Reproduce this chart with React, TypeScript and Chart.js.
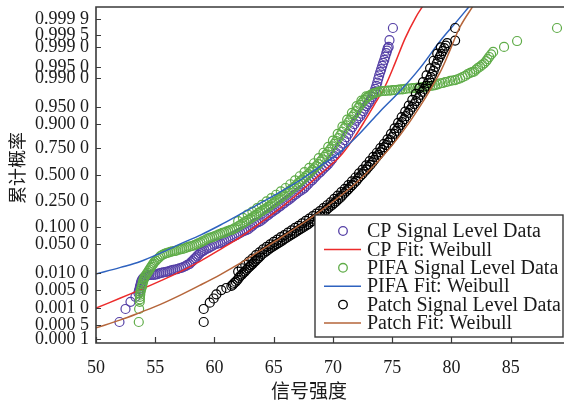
import React, { useEffect, useRef } from 'react';
import { Chart, registerables } from 'chart.js';
Chart.register(...registerables);

// ---- axes ----
const X_MIN = 50;
const X_MAX = 89.5;
const X_TICKS = [50, 55, 60, 65, 70, 75, 80, 85];
const Z_MIN = -4;
const Z_MAX = 4;
// probability tick labels and their positions on the (normal-quantile) probability axis
const PROB_LABELS = ['0.999 9', '0.999 5', '0.999 0', '0.995 0', '0.990 0', '0.950 0', '0.900 0', '0.750 0', '0.500 0', '0.250 0', '0.100 0', '0.050 0', '0.010 0', '0.005 0', '0.001 0', '0.000 5', '0.000 1'];
const PROB_Z = [3.71, 3.33, 3.05, 2.57, 2.31, 1.62, 1.21, 0.64, 0, -0.62, -1.24, -1.65, -2.33, -2.74, -3.17, -3.57, -3.9];

const X_TITLE = '信号强度';
const Y_TITLE = '累计概率';

// ---- CP signal level data ----
const CP_X = [51.98, 52.49, 52.91, 53.33,
  53.58, 53.62, 53.67, 53.71, 53.75, 53.79, 53.84, 53.92, 54.01, 54.13, 54.26, 54.38, 54.51, 54.68, 54.85, 55.02,
  55.19, 55.35, 55.52, 55.69, 55.86, 56.03, 56.20, 56.36, 56.53, 56.70, 56.87, 57.04, 57.21, 57.38, 57.55, 57.71,
  57.88, 58.01, 58.14, 58.26, 58.39, 58.51, 58.64, 58.77, 58.90, 59.02, 59.15, 59.32, 59.49, 59.65, 59.82, 59.99,
  60.16, 60.33, 60.50, 60.67, 60.84, 61.00, 61.17, 61.34, 61.51, 61.68, 61.85, 62.01, 62.18, 62.35, 62.52, 62.69,
  62.86, 63.03, 63.20, 63.36, 63.53, 63.70, 63.87, 64.04, 64.21, 64.38, 64.55, 64.71, 64.88, 65.05, 65.22, 65.39,
  65.56, 65.72, 65.89, 66.06, 66.23, 66.40, 66.57, 66.74, 66.91, 67.07, 67.24, 67.41, 67.58, 67.75, 67.92, 68.09,
  68.26, 68.42, 68.59, 68.76, 68.93, 69.10, 69.27, 69.43, 69.60, 69.77, 69.94, 70.11, 70.28, 70.45, 70.62, 70.78,
  70.95, 71.12, 71.29, 71.46, 71.63, 71.80, 71.97, 72.13, 72.30, 72.43, 72.56, 72.68, 72.81, 72.93, 73.06, 73.19,
  73.32, 73.40, 73.49, 73.57, 73.66, 73.74, 73.82, 73.90, 73.99, 74.07, 74.16, 74.24, 74.33, 74.41, 74.50, 74.56,
  74.62, 74.70, 74.77, 75.06];
const CP_Z = [-3.50, -3.19, -3.02, -2.90,
  -2.81, -2.76, -2.71, -2.66, -2.62, -2.57, -2.52, -2.48, -2.45, -2.42, -2.40, -2.39, -2.38, -2.38, -2.38, -2.37,
  -2.36, -2.34, -2.33, -2.32, -2.31, -2.30, -2.29, -2.27, -2.26, -2.25, -2.24, -2.22, -2.21, -2.19, -2.17, -2.14,
  -2.12, -2.08, -2.05, -2.01, -1.98, -1.94, -1.90, -1.86, -1.83, -1.81, -1.79, -1.76, -1.74, -1.71, -1.69, -1.66,
  -1.64, -1.63, -1.62, -1.59, -1.57, -1.54, -1.52, -1.50, -1.48, -1.45, -1.43, -1.40, -1.38, -1.35, -1.33, -1.31,
  -1.29, -1.25, -1.21, -1.17, -1.14, -1.12, -1.10, -1.06, -1.02, -0.98, -0.95, -0.91, -0.88, -0.84, -0.81, -0.77,
  -0.74, -0.70, -0.67, -0.63, -0.60, -0.56, -0.52, -0.48, -0.45, -0.41, -0.38, -0.35, -0.31, -0.26, -0.21, -0.16,
  -0.12, -0.07, -0.02, 0.03, 0.07, 0.12, 0.17, 0.21, 0.26, 0.32, 0.38, 0.45, 0.52, 0.60, 0.67, 0.75,
  0.83, 0.90, 0.98, 1.06, 1.14, 1.21, 1.29, 1.35, 1.40, 1.46, 1.52, 1.58, 1.64, 1.69, 1.74, 1.80,
  1.86, 1.92, 1.98, 2.05, 2.12, 2.20, 2.29, 2.37, 2.45, 2.52, 2.60, 2.67, 2.74, 2.82, 2.90, 2.96,
  3.02, 3.05, 3.21, 3.50];

// ---- PIFA signal level data (centre of band, then upper edge of band) ----
const PIFA_X = [53.61, 53.64,
  53.69, 53.70, 53.71, 53.73, 53.75, 53.79, 53.84, 53.88, 53.92, 53.96, 54.01, 54.05, 54.09, 54.17, 54.26, 54.34,
  54.43, 54.51, 54.60, 54.68, 54.76, 54.85, 54.93, 55.06, 55.19, 55.31, 55.44, 55.61, 55.78, 55.95, 56.11, 56.28,
  56.45, 56.62, 56.79, 56.96, 57.13, 57.29, 57.46, 57.63, 57.80, 57.97, 58.14, 58.30, 58.47, 58.64, 58.81, 58.98,
  59.15, 59.32, 59.49, 59.65, 59.82, 59.99, 60.16, 60.33, 60.50, 60.67, 60.84, 61.00, 61.17, 61.34, 61.51, 61.68,
  61.85, 62.01, 62.18, 62.35, 62.52, 62.69, 62.86, 63.03, 63.20, 63.36, 63.53, 63.70, 63.87, 64.04, 64.21, 64.38,
  64.55, 64.71, 64.88, 65.05, 65.22, 65.39, 65.56, 65.72, 65.89, 66.06, 66.23, 66.40, 66.57, 66.74, 66.91, 67.07,
  67.24, 67.41, 67.58, 67.75, 67.92, 68.09, 68.26, 68.42, 68.59, 68.76, 68.93, 69.10, 69.27, 69.43, 69.60, 69.77,
  69.94, 70.11, 70.28, 70.45, 70.62, 70.78, 70.95, 71.12, 71.29, 71.46, 71.63, 71.80, 71.97, 72.13, 72.30, 72.47,
  72.64, 72.81, 72.98, 73.15, 73.32, 73.49, 73.66, 73.82, 73.99, 74.20, 74.41, 74.62, 74.84, 75.04, 75.25, 75.46,
  75.67, 75.88, 76.10, 76.31, 76.52, 76.73, 76.94, 77.15, 77.36, 77.57, 77.78, 77.99, 78.20, 78.42, 78.63, 78.84,
  79.05, 79.26, 79.47, 79.68, 79.89, 80.10, 80.31, 80.52, 80.73, 80.94, 81.16, 81.37, 81.58, 81.75, 81.91, 82.08,
  82.25, 82.42, 82.59, 82.76, 82.93, 83.05, 83.18, 83.35, 83.52, 84.44, 85.54, 88.91];
const PIFA_Z = [-3.50, -3.19,
  -3.02, -2.96, -2.90, -2.85, -2.79, -2.74, -2.69, -2.65, -2.60, -2.55, -2.50, -2.47, -2.43, -2.40, -2.36, -2.33,
  -2.29, -2.25, -2.21, -2.18, -2.14, -2.11, -2.07, -2.04, -2.00, -1.97, -1.93, -1.90, -1.88, -1.86, -1.85, -1.83,
  -1.82, -1.81, -1.80, -1.78, -1.77, -1.76, -1.75, -1.73, -1.71, -1.70, -1.69, -1.67, -1.65, -1.63, -1.61, -1.58,
  -1.56, -1.53, -1.51, -1.49, -1.48, -1.46, -1.44, -1.42, -1.40, -1.38, -1.37, -1.35, -1.33, -1.31, -1.30, -1.27,
  -1.25, -1.22, -1.19, -1.16, -1.13, -1.10, -1.07, -1.04, -1.01, -0.98, -0.95, -0.91, -0.88, -0.85, -0.82, -0.79,
  -0.76, -0.72, -0.69, -0.65, -0.62, -0.58, -0.55, -0.51, -0.48, -0.44, -0.40, -0.36, -0.32, -0.28, -0.24, -0.19,
  -0.15, -0.11, -0.07, -0.02, 0.02, 0.07, 0.12, 0.16, 0.21, 0.26, 0.32, 0.37, 0.43, 0.49, 0.55, 0.61,
  0.68, 0.74, 0.81, 0.88, 0.95, 1.03, 1.11, 1.18, 1.25, 1.32, 1.39, 1.45, 1.52, 1.60, 1.67, 1.73,
  1.79, 1.83, 1.87, 1.90, 1.93, 1.95, 1.96, 1.98, 1.99, 2.00, 2.00, 2.01, 2.01, 2.02, 2.02, 2.03,
  2.04, 2.04, 2.05, 2.06, 2.06, 2.07, 2.07, 2.08, 2.08, 2.09, 2.10, 2.11, 2.12, 2.13, 2.14, 2.16,
  2.18, 2.19, 2.21, 2.22, 2.24, 2.25, 2.26, 2.28, 2.30, 2.33, 2.36, 2.40, 2.43, 2.45, 2.46, 2.51,
  2.55, 2.58, 2.62, 2.66, 2.71, 2.76, 2.81, 2.87, 2.93, 3.05, 3.19, 3.50];
const PIFA_EDGE_X = [62.0, 62.4, 62.8, 63.2, 63.6, 64.0, 64.4, 64.8, 65.2, 65.6, 66.0, 66.4, 66.8, 67.2,
  67.6, 68.0, 68.4, 68.8, 69.2, 69.6, 70.0, 70.4, 70.8, 71.2, 71.6, 72.0, 72.4, 72.8];
const PIFA_EDGE_Z = [-1.10, -1.02, -0.94, -0.87, -0.79, -0.71, -0.63, -0.55, -0.47, -0.39, -0.31, -0.22, -0.13, -0.03,
  0.07, 0.17, 0.28, 0.40, 0.53, 0.67, 0.82, 0.98, 1.15, 1.32, 1.48, 1.64, 1.77, 1.87];

// ---- Patch signal level data (centre of band, then upper edge of band) ----
const PATCH_X = [59.09, 59.09, 59.60, 59.93, 60.16, 60.58, 61.00,
  61.43, 61.55, 61.68, 61.80, 61.93, 62.05, 62.18, 62.31, 62.44, 62.56, 62.69, 62.82, 62.94, 63.07, 63.20, 63.32,
  63.45, 63.57, 63.70, 63.87, 64.04, 64.21, 64.38, 64.55, 64.71, 64.88, 65.05, 65.22, 65.39, 65.56, 65.73, 65.89,
  66.06, 66.23, 66.40, 66.57, 66.74, 66.91, 67.07, 67.24, 67.41, 67.58, 67.75, 67.92, 68.09, 68.26, 68.42, 68.59,
  68.76, 68.93, 69.10, 69.27, 69.44, 69.60, 69.77, 69.94, 70.11, 70.28, 70.45, 70.62, 70.78, 70.95, 71.12, 71.29,
  71.46, 71.63, 71.80, 71.97, 72.13, 72.30, 72.47, 72.64, 72.81, 72.98, 73.15, 73.32, 73.48, 73.65, 73.82, 73.99,
  74.16, 74.33, 74.50, 74.67, 74.83, 75.00, 75.17, 75.34, 75.51, 75.67, 75.84, 76.01, 76.18, 76.35, 76.52, 76.69,
  76.86, 77.02, 77.19, 77.36, 77.53, 77.70, 77.87, 78.00, 78.12, 78.25, 78.37, 78.50, 78.63, 78.75, 78.88, 79.01,
  79.13, 79.26, 79.39, 79.52, 79.64, 80.31, 80.31];
const PATCH_Z = [-3.50, -3.19, -3.04, -2.94, -2.84, -2.74, -2.69,
  -2.64, -2.61, -2.57, -2.54, -2.50, -2.45, -2.40, -2.37, -2.33, -2.30, -2.26, -2.22, -2.19, -2.15, -2.12, -2.08,
  -2.05, -2.01, -1.98, -1.93, -1.88, -1.85, -1.81, -1.78, -1.74, -1.71, -1.68, -1.65, -1.62, -1.59, -1.56, -1.53,
  -1.50, -1.47, -1.44, -1.41, -1.38, -1.35, -1.32, -1.29, -1.26, -1.23, -1.20, -1.17, -1.13, -1.10, -1.06, -1.03,
  -0.99, -0.96, -0.92, -0.88, -0.83, -0.79, -0.75, -0.71, -0.67, -0.63, -0.58, -0.54, -0.49, -0.44, -0.39, -0.34,
  -0.29, -0.24, -0.19, -0.14, -0.08, -0.03, 0.02, 0.08, 0.13, 0.19, 0.24, 0.30, 0.36, 0.42, 0.48, 0.54,
  0.60, 0.66, 0.71, 0.77, 0.83, 0.90, 0.98, 1.05, 1.12, 1.19, 1.26, 1.33, 1.40, 1.48, 1.55, 1.62,
  1.69, 1.76, 1.83, 1.91, 1.98, 2.05, 2.12, 2.19, 2.26, 2.33, 2.40, 2.48, 2.57, 2.65, 2.74, 2.81,
  2.88, 2.95, 3.02, 3.08, 3.14, 3.20, 3.50];
const PATCH_EDGE_X = [62.0, 62.3, 62.6, 62.9, 63.2, 63.5, 63.8, 64.1, 64.4, 64.7, 65.0, 65.3, 65.6, 65.9, 66.2,
  66.5, 66.8, 67.1, 67.4, 67.7, 68.0, 68.3, 68.6, 68.9, 69.2, 69.5, 69.8, 70.1, 70.4, 70.7, 71.0, 71.3, 71.6,
  71.9, 72.2, 72.5, 72.8, 73.1, 73.4, 73.7, 74.0, 74.3, 74.6, 74.9, 75.2, 75.5, 75.8, 76.1, 76.4, 76.7, 77.0,
  77.3, 77.6, 77.9, 78.2, 78.5, 78.8, 79.1];
const PATCH_EDGE_Z = [-2.30, -2.22, -2.14, -2.06, -1.99, -1.91, -1.84, -1.77, -1.71, -1.65, -1.59, -1.54, -1.48, -1.43, -1.37,
  -1.32, -1.26, -1.21, -1.15, -1.09, -1.04, -0.98, -0.92, -0.86, -0.79, -0.72, -0.65, -0.57, -0.49, -0.41, -0.33, -0.24, -0.15,
  -0.06, 0.04, 0.13, 0.23, 0.33, 0.43, 0.53, 0.64, 0.74, 0.85, 0.98, 1.11, 1.24, 1.38, 1.51, 1.65, 1.79, 1.93,
  2.07, 2.21, 2.37, 2.54, 2.72, 2.89, 3.04];

// ---- Weibull fits ----
const CP_FIT_X = [50, 52.07, 53.75, 55.44, 57.12, 58.81, 60.50, 62.18, 63.87, 65.56, 67.24, 68.93, 70.62, 71.88, 72.73, 73.57, 74.41, 75.25, 76.10, 77.00, 77.72];
const CP_FIT_Z = [-3.17, -2.93, -2.73, -2.52, -2.30, -2.05, -1.77, -1.48, -1.14, -0.79, -0.40, 0.02, 0.45, 0.93, 1.31, 1.71, 2.12, 2.67, 3.26, 3.76, 4.08];
const PIFA_FIT_X = [50, 52.07, 53.75, 55.44, 57.12, 58.81, 60.50, 62.18, 63.87, 65.56, 67.24, 68.93, 70.62, 72.30, 73.99, 75.67, 77.36, 79.05, 80.40, 81.70];
const PIFA_FIT_Z = [-2.36, -2.20, -2.06, -1.86, -1.64, -1.43, -1.19, -0.93, -0.67, -0.40, -0.12, 0.21, 0.55, 1.00, 1.52, 2.00, 2.55, 3.19, 3.64, 4.08];
const PATCH_FIT_X = [50, 52.07, 53.75, 55.44, 57.12, 58.81, 60.50, 62.18, 63.87, 65.56, 67.24, 68.93, 70.62, 72.30, 73.99, 75.67, 77.36, 79.05, 79.89, 80.73, 81.95];
const PATCH_FIT_Z = [-3.64, -3.45, -3.27, -3.08, -2.86, -2.62, -2.37, -2.10, -1.80, -1.50, -1.19, -0.86, -0.50, -0.10, 0.38, 0.95, 1.64, 2.45, 2.98, 3.53, 4.08];

const LEGEND_LABELS = ['CP Signal Level Data', 'CP Fit: Weibull', 'PIFA Signal Level Data', 'PIFA Fit: Weibull', 'Patch Signal Level Data', 'Patch Fit: Weibull'];

const COL_CP = '#5540a6';
const COL_PIFA = '#5fac48';
const COL_PATCH = '#000000';
const COL_CP_FIT = '#ec2b2b';
const COL_PIFA_FIT = '#2e62bf';
const COL_PATCH_FIT = '#b5653a';
const AXIS_COL = '#3a3a3a';

const SERIF = '"Liberation Serif", "Times New Roman", serif';
const CJK = '"Noto Sans CJK SC", sans-serif';

function pts(xs: number[], ys: number[]) {
  const n = Math.min(xs.length, ys.length);
  const out: { x: number; y: number }[] = [];
  for (let i = 0; i < n; i++) out.push({ x: xs[i], y: ys[i] });
  return out;
}

const framePlugin = {
  id: 'frameAndLegend',
  afterDatasetsDraw(chart: any) {
    const ctx = chart.ctx;
    const ca = chart.chartArea;
    const xs = chart.scales.x;
    const ys = chart.scales.y;
    ctx.save();
    // frame
    ctx.strokeStyle = AXIS_COL;
    ctx.lineWidth = 1.6;
    ctx.beginPath();
    ctx.moveTo(ca.right + 2, ca.top);
    ctx.lineTo(ca.left, ca.top);
    ctx.lineTo(ca.left, ca.bottom);
    ctx.lineTo(ca.right + 2, ca.bottom);
    ctx.stroke();
    // inward ticks
    ctx.lineWidth = 1.2;
    ctx.beginPath();
    for (const z of PROB_Z) {
      const y = Math.round(ys.getPixelForValue(z)) + 0.5;
      ctx.moveTo(ca.left, y);
      ctx.lineTo(ca.left + 5, y);
    }
    for (const v of X_TICKS) {
      const x = Math.round(xs.getPixelForValue(v)) + 0.5;
      ctx.moveTo(x, ca.bottom);
      ctx.lineTo(x, ca.bottom - 6);
    }
    ctx.stroke();

    // legend box
    const bl = ca.left + 219;
    const bt = ca.top + 208;
    const bw = 248;
    const bh = 122;
    ctx.fillStyle = '#ffffff';
    ctx.fillRect(bl, bt, bw, bh);
    ctx.strokeStyle = AXIS_COL;
    ctx.lineWidth = 1.4;
    ctx.strokeRect(bl, bt, bw, bh);
    const rowH = 18.4;
    const cols = [COL_CP, COL_CP_FIT, COL_PIFA, COL_PIFA_FIT, COL_PATCH, COL_PATCH_FIT];
    ctx.font = '20px ' + SERIF;
    ctx.textBaseline = 'middle';
    ctx.textAlign = 'left';
    for (let i = 0; i < LEGEND_LABELS.length; i++) {
      const cy = bt + 16 + i * rowH;
      ctx.strokeStyle = cols[i];
      if (i % 2 === 0) {
        ctx.lineWidth = 1.3;
        ctx.beginPath();
        ctx.arc(bl + 28, cy, 4.3, 0, Math.PI * 2);
        ctx.stroke();
      } else {
        ctx.lineWidth = 1.5;
        ctx.beginPath();
        ctx.moveTo(bl + 9, cy);
        ctx.lineTo(bl + 46, cy);
        ctx.stroke();
      }
      ctx.fillStyle = '#1a1a1a';
      ctx.fillText(LEGEND_LABELS[i], bl + 52, cy + 1);
    }

    // axis titles
    ctx.fillStyle = '#1a1a1a';
    ctx.font = '19px ' + CJK;
    ctx.textAlign = 'center';
    ctx.textBaseline = 'middle';
    ctx.fillText(X_TITLE, 309, ca.bottom + 48);
    ctx.save();
    ctx.translate(17, 168);
    ctx.rotate(-Math.PI / 2);
    ctx.font = '18px ' + CJK;
    ctx.fillText(Y_TITLE, 0, 0);
    ctx.restore();
    ctx.restore();
  },
};

export default function App() {
  const ref = useRef<HTMLCanvasElement | null>(null);
  useEffect(() => {
    document.body.style.margin = '0';
    const canvas = ref.current;
    if (!canvas) return;
    const scatterDs = (label: string, data: { x: number; y: number }[], col: string, order: number) => ({
      label,
      data,
      showLine: false,
      pointStyle: 'circle',
      pointRadius: 4.5,
      pointHoverRadius: 4.5,
      pointBorderWidth: 1.2,
      pointBackgroundColor: 'rgba(0,0,0,0)',
      pointBorderColor: col,
      borderColor: col,
      backgroundColor: 'rgba(0,0,0,0)',
      order,
    });
    const lineDs = (label: string, xs: number[], ys: number[], col: string, order: number) => ({
      label,
      data: pts(xs, ys),
      showLine: true,
      pointRadius: 0,
      pointHoverRadius: 0,
      borderColor: col,
      borderWidth: 1.5,
      tension: 0.35,
      fill: false,
      order,
    });
    const chart = new Chart(canvas, {
      type: 'scatter',
      data: {
        datasets: [
          scatterDs(LEGEND_LABELS[0], pts(CP_X, CP_Z), COL_CP, 6),
          lineDs(LEGEND_LABELS[1], CP_FIT_X, CP_FIT_Z, COL_CP_FIT, 5),
          scatterDs(LEGEND_LABELS[2], pts(PIFA_X, PIFA_Z).concat(pts(PIFA_EDGE_X, PIFA_EDGE_Z)), COL_PIFA, 4),
          lineDs(LEGEND_LABELS[3], PIFA_FIT_X, PIFA_FIT_Z, COL_PIFA_FIT, 3),
          scatterDs(LEGEND_LABELS[4], pts(PATCH_X, PATCH_Z).concat(pts(PATCH_EDGE_X, PATCH_EDGE_Z)), COL_PATCH, 2),
          lineDs(LEGEND_LABELS[5], PATCH_FIT_X, PATCH_FIT_Z, COL_PATCH_FIT, 1),
        ] as any,
      },
      options: {
        animation: false,
        responsive: false,
        devicePixelRatio: 1,
        events: [],
        layout: { autoPadding: false, padding: { top: 7, right: 0, left: 0, bottom: 0 } },
        plugins: { legend: { display: false }, tooltip: { enabled: false } },
        scales: {
          x: {
            type: 'linear',
            min: X_MIN,
            max: X_MAX,
            grid: { display: false, drawTicks: false },
            border: { display: false },
            afterBuildTicks: (s: any) => {
              s.ticks = X_TICKS.map((v) => ({ value: v }));
            },
            afterFit: (s: any) => {
              s.height = 63;
              s.paddingLeft = 0;
              s.paddingRight = 0;
              s.paddingTop = 0;
              s.paddingBottom = 0;
            },
            ticks: {
              autoSkip: false,
              maxRotation: 0,
              padding: 14,
              color: '#1a1a1a',
              font: { family: SERIF, size: 18 },
              callback: (v: any) => String(v),
            },
          },
          y: {
            type: 'linear',
            min: Z_MIN,
            max: Z_MAX,
            grid: { display: false, drawTicks: false },
            border: { display: false },
            afterBuildTicks: (s: any) => {
              s.ticks = PROB_Z.map((v) => ({ value: v }));
            },
            afterFit: (s: any) => {
              s.width = 96;
              s.paddingLeft = 0;
              s.paddingRight = 0;
              s.paddingTop = 0;
              s.paddingBottom = 0;
            },
            ticks: {
              autoSkip: false,
              padding: 7,
              color: '#1a1a1a',
              font: { family: SERIF, size: 18 },
              callback: (_v: any, i: number) => PROB_LABELS[i],
            },
          },
        },
      } as any,
      plugins: [framePlugin],
    });
    return () => chart.destroy();
  }, []);
  return (
    <div style={{ width: 564, height: 406, position: 'relative', background: '#fff' }}>
      <canvas ref={ref} width={564} height={406} style={{ display: 'block', width: 564, height: 406 }} />
    </div>
  );
}
